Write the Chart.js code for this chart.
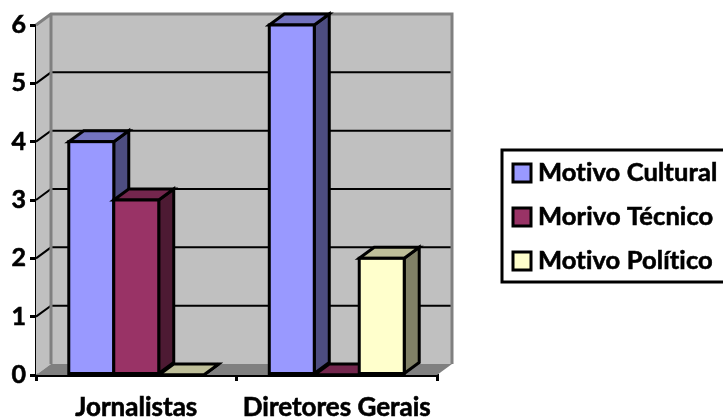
<!DOCTYPE html>
<html>
<head>
<meta charset="utf-8">
<title>Motivos</title>
<script src="https://cdn.jsdelivr.net/npm/chart.js@4"></script>
<style>
    html, body { margin: 0; padding: 0; background: #fff; overflow: hidden; }
    canvas { display: block; }
</style>
</head>
<body>
<canvas id="grafico" width="723" height="418"></canvas>
<script>
var categorias = ["Jornalistas", "Diretores Gerais"];
var nomesSeries = ["Motivo Cultural", "Morivo Técnico", "Motivo Político"];
var motivoCultural = [4, 6];
var morivoTecnico = [3, 0];
var motivoPolitico = [0, 2];

var coresFrente = ["#9999FF", "#993366", "#FFFFCC"];
var coresTopo = ["#7373BF", "#73264D", "#BFBF99"];
var coresLado = ["#4D4D80", "#4D1A33", "#808066"];

// profundidade do efeito 3D
var DX = 15;
var DY = -11;
var LINHA = 3;
var GRADE = 2;
var FONTE = "bold 25.5px Lato";

function poligono(ctx, pontos, cor) {
    ctx.beginPath();
    pontos.forEach(function (p, i) {
        if (i === 0) ctx.moveTo(p[0], p[1]);
        else ctx.lineTo(p[0], p[1]);
    });
    ctx.closePath();
    ctx.fillStyle = cor;
    ctx.fill();
}

var paredes = {
    id: "paredes",
    beforeDatasetsDraw: function (chart) {
        var ctx = chart.ctx;
        var a = chart.chartArea;
        var y = chart.scales.y;
        ctx.save();
        // parede do fundo, parede lateral, chao
        poligono(ctx, [[a.left + DX, a.top + DY], [a.right + DX, a.top + DY], [a.right + DX, a.bottom + DY], [a.left + DX, a.bottom + DY]], "#C0C0C0");
        poligono(ctx, [[a.left, a.top], [a.left + DX, a.top + DY], [a.left + DX, a.bottom + DY], [a.left, a.bottom]], "#C0C0C0");
        poligono(ctx, [[a.left, a.bottom], [a.left + DX, a.bottom + DY], [a.right + DX, a.bottom + DY], [a.right, a.bottom]], "#808080");

        ctx.lineWidth = GRADE;
        ctx.strokeStyle = "#000000";
        y.ticks.forEach(function (t) {
            if (t.value === 0 || t.value === y.max) return;
            var py = y.getPixelForValue(t.value);
            ctx.beginPath();
            ctx.moveTo(a.left, py);
            ctx.lineTo(a.left + DX, py + DY);
            ctx.lineTo(a.right + DX, py + DY);
            ctx.stroke();
        });

        ctx.lineWidth = LINHA;
        ctx.strokeStyle = "#808080";
        ctx.beginPath();
        ctx.moveTo(a.left, a.top);
        ctx.lineTo(a.left + DX, a.top + DY);
        ctx.lineTo(a.right + DX, a.top + DY);
        ctx.lineTo(a.right + DX, a.bottom + DY);
        ctx.moveTo(a.left + DX, a.top + DY);
        ctx.lineTo(a.left + DX, a.bottom + DY);
        ctx.stroke();
        ctx.restore();
    },
    // a biblioteca desenha de tras para a frente; aqui as barras saem da esquerda para a direita
    beforeDatasetDraw: function () {
        return false;
    },
    afterDatasetsDraw: function (chart) {
        var ctx = chart.ctx;
        chart.data.datasets.forEach(function (ds, i) {
            var meta = chart.getDatasetMeta(i);
            ctx.save();
            ctx.lineWidth = LINHA;
            ctx.strokeStyle = "#000000";
            meta.data.forEach(function (barra) {
                var esq = barra.x - barra.width / 2;
                var dir = barra.x + barra.width / 2;
                var lado = [[dir, barra.y], [dir + DX, barra.y + DY], [dir + DX, barra.base + DY], [dir, barra.base]];
                var topo = [[esq, barra.y], [esq + DX, barra.y + DY], [dir + DX, barra.y + DY], [dir, barra.y]];
                poligono(ctx, lado, coresLado[i]);
                ctx.stroke();
                poligono(ctx, topo, coresTopo[i]);
                ctx.stroke();
            });
            meta.controller.draw();
            meta.data.forEach(function (barra) {
                ctx.strokeRect(barra.x - barra.width / 2, barra.y, barra.width, barra.base - barra.y);
            });
            ctx.restore();
        });
    }
};

var legenda = {
    id: "legenda",
    afterDraw: function (chart) {
        var ctx = chart.ctx;
        ctx.save();
        ctx.lineWidth = LINHA;
        ctx.strokeStyle = "#000000";
        ctx.strokeRect(502, 150, 240, 132);
        ctx.font = FONTE;
        ctx.letterSpacing = "0.1px"; // evita a ligadura "ti" da Lato
        ctx.textBaseline = "middle";
        chart.data.datasets.forEach(function (ds, i) {
            var y = 173 + i * 44;
            ctx.lineWidth = LINHA;
            ctx.fillStyle = ds.backgroundColor;
            ctx.fillRect(513, y - 9, 18, 18);
            ctx.strokeRect(513, y - 9, 18, 18);
            ctx.fillStyle = "#000000";
            ctx.lineWidth = 0.6;
            ctx.fillText(ds.label, 538, y);
            ctx.strokeText(ds.label, 538, y);
        });
        ctx.restore();
    }
};

new Chart(document.getElementById("grafico"), {
    type: "bar",
    data: {
        labels: categorias,
        datasets: [
            { label: nomesSeries[0], data: motivoCultural, backgroundColor: coresFrente[0] },
            { label: nomesSeries[1], data: morivoTecnico, backgroundColor: coresFrente[1] },
            { label: nomesSeries[2], data: motivoPolitico, backgroundColor: coresFrente[2] }
        ]
    },
    options: {
        responsive: false,
        animation: false,
        layout: { padding: { top: 25, right: 286, left: 0, bottom: 0 } },
        datasets: { bar: { barPercentage: 1, categoryPercentage: 0.673, borderWidth: 0 } },
        plugins: { legend: { display: false }, tooltip: { enabled: false }, title: { display: false } },
        scales: {
            x: {
                afterFit: function (s) { s.height = 43; },
                border: { color: "#000000", width: LINHA },
                grid: { drawOnChartArea: false, color: "#000000", lineWidth: LINHA, tickLength: 6 },
                ticks: {
                    color: "#000000",
                    font: { family: "Lato", size: 26, weight: "bold" },
                    textStrokeColor: "#000000",
                    textStrokeWidth: 0.6,
                    maxRotation: 0,
                    autoSkip: false,
                    padding: 11
                }
            },
            y: {
                min: 0,
                max: 6,
                afterFit: function (s) { s.width = 36; },
                border: { color: "#000000", width: LINHA },
                grid: { drawOnChartArea: false, color: "#000000", lineWidth: LINHA, tickLength: 6 },
                ticks: {
                    stepSize: 1,
                    color: "#000000",
                    font: { family: "Lato", size: 25, weight: "bold" },
                    textStrokeColor: "#000000",
                    textStrokeWidth: 0.6,
                    padding: 4
                }
            }
        }
    },
    plugins: [paredes, legenda]
});
</script>
</body>
</html>
